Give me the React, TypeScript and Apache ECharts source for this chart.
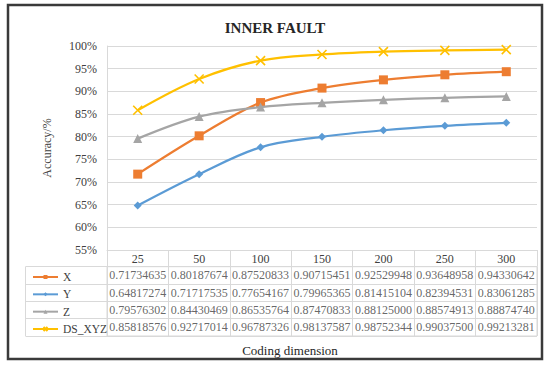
import React, { useEffect, useRef } from "react";
import * as echarts from "echarts";

const categories = ["25", "50", "100", "150", "200", "250", "300"];
const seriesNames = ["X", "Y", "Z", "DS_XYZ"];
const xValues = [0.71734635, 0.80187674, 0.87520833, 0.90715451, 0.92529948, 0.93648958, 0.94330642];
const yValues = [0.64817274, 0.71717535, 0.77654167, 0.79965365, 0.81415104, 0.82394531, 0.83061285];
const zValues = [0.79576302, 0.84430469, 0.86535764, 0.87470833, 0.88125, 0.88574913, 0.8887474];
const dsValues = [0.85818576, 0.92717014, 0.96787326, 0.98137587, 0.98752344, 0.990375, 0.99213281];
const yTicksMin = 0.55;
const yTicksMax = 1.0;
const yTickStep = 0.05;

const FONT = "'Liberation Serif', 'Times New Roman', serif";
const GRIDC = "#d9d9d9";
const TXT = "#404040";

export default function App() {
  const ref = useRef<HTMLDivElement>(null);
  useEffect(() => {
    if (!ref.current) return;
    const chart = echarts.init(ref.current, undefined, { renderer: "svg" });
    const allValues = [xValues, yValues, zValues, dsValues];
    const tableData: any[] = [];
    allValues.forEach((arr, ri) => {
      arr.forEach((v, ci) => tableData.push([ci, ri, v]));
    });
    const styles = [
      { color: "#ED7D31", symbol: "rect", size: 9 },
      { color: "#5B9BD5", symbol: "diamond", size: 8 },
      { color: "#A5A5A5", symbol: "triangle", size: 9 },
      { color: "#FFC000", symbol: "path://M0,0L10,10M10,0L0,10", size: 9 },
    ];
    const lineSeries = allValues.map((arr, i) => ({
      name: seriesNames[i],
      type: "line",
      xAxisIndex: 0,
      yAxisIndex: 0,
      data: arr,
      smooth: 0.35,
      symbol: styles[i].symbol,
      symbolSize: styles[i].size,
      showAllSymbol: true,
      lineStyle: { color: styles[i].color, width: 2.25 },
      itemStyle: {
        color: styles[i].color,
        borderColor: styles[i].color,
        borderWidth: i === 3 ? 1.6 : 0,
      },
      z: 3 + i,
    }));
    const option: any = {
      animation: false,
      backgroundColor: "#ffffff",
      title: {
        text: "INNER FAULT",
        left: "center",
        top: 15,
        textStyle: { fontFamily: FONT, fontWeight: "bold", fontSize: 15, color: "#262626" },
      },
      legend: {
        data: seriesNames,
        orient: "vertical",
        left: 27,
        top: 266,
        itemGap: 5.33,
        itemWidth: 25,
        itemHeight: 5,
        textStyle: { fontFamily: FONT, fontSize: 11.5, color: TXT, lineHeight: 12 },
        selectedMode: false,
      },
      grid: [
        { left: 107, right: 13, top: 46, height: 204 },
        { left: 107, right: 13, top: 266.7, height: 69.3, show: true, borderColor: GRIDC, borderWidth: 1 },
      ],
      xAxis: [
        {
          type: "category",
          gridIndex: 0,
          data: categories,
          boundaryGap: true,
          axisLine: { show: true, lineStyle: { color: GRIDC, width: 1 } },
          axisTick: { show: true, interval: 0, length: 16.7, lineStyle: { color: GRIDC } },
          axisLabel: { margin: 3, fontFamily: FONT, fontSize: 12, color: TXT, interval: 0 },
        },
        {
          type: "category",
          gridIndex: 1,
          data: categories,
          boundaryGap: true,
          axisLine: { show: false },
          axisTick: { show: false },
          axisLabel: { show: false },
          splitLine: { show: true, interval: 0, lineStyle: { color: GRIDC } },
        },
      ],
      yAxis: [
        {
          type: "value",
          gridIndex: 0,
          min: yTicksMin,
          max: yTicksMax,
          interval: yTickStep,
          axisLine: { show: true, lineStyle: { color: GRIDC } },
          axisTick: { show: false },
          splitLine: { show: true, lineStyle: { color: GRIDC } },
          axisLabel: {
            margin: 10,
            fontFamily: FONT,
            fontSize: 12,
            color: TXT,
            formatter: (v: number) => Math.round(v * 100) + "%",
          },
          name: "Accuracy/%",
          nameLocation: "middle",
          nameGap: 54,
          nameRotate: 90,
          nameTextStyle: { fontFamily: FONT, fontSize: 12, color: TXT },
        },
        {
          type: "category",
          gridIndex: 1,
          data: seriesNames,
          inverse: true,
          boundaryGap: true,
          axisLine: { show: false },
          axisLabel: { show: false },
          axisTick: { show: true, interval: 0, length: 81.5, lineStyle: { color: GRIDC } },
          splitLine: { show: true, interval: 0, lineStyle: { color: GRIDC } },
        },
      ],
      series: [
        ...lineSeries,
        {
          name: "table",
          type: "scatter",
          xAxisIndex: 1,
          yAxisIndex: 1,
          data: tableData,
          symbolSize: 0,
          silent: true,
          label: {
            show: true,
            position: "inside",
            fontFamily: FONT,
            fontSize: 12,
            color: TXT,
            formatter: (p: any) => Number(p.value[2]).toFixed(8),
          },
        },
      ],
      graphic: [
        {
          type: "line",
          shape: { x1: 25.5, y1: 266.7, x2: 25.5, y2: 336 },
          style: { stroke: GRIDC, lineWidth: 1 },
        },
        {
          type: "text",
          x: 290,
          y: 350,
          style: {
            text: "Coding dimension",
            fontFamily: FONT,
            fontSize: 13,
            fill: "#262626",
            textAlign: "center",
            textVerticalAlign: "middle",
          },
        },
        {
          type: "rect",
          shape: { x: 8, y: 5, width: 534, height: 354 },
          style: { fill: "none", stroke: "#3a3a3a", lineWidth: 2.5 },
          z: 100,
        },
      ],
    };
    chart.setOption(option);
    return () => chart.dispose();
  }, []);
  return (
    <div
      ref={ref}
      style={{ position: "fixed", left: 0, top: 0, width: 550, height: 368 }}
    />
  );
}
